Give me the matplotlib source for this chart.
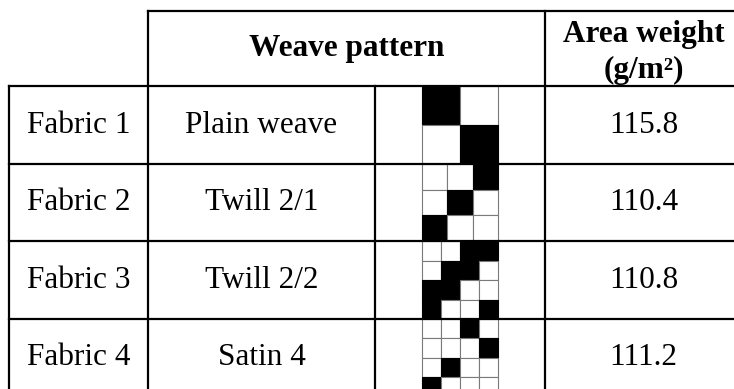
#!/usr/bin/env python3

"""
Fabric table: weave pattern drawings and area weight
"""

import matplotlib
matplotlib.use("Agg")
import matplotlib.pyplot as plt
from matplotlib.patches import Rectangle

fabrics = ["Fabric 1", "Fabric 2", "Fabric 3", "Fabric 4"]
weaves = ["Plain weave", "Twill 2/1", "Twill 2/2", "Satin 4"]
area_weight = [115.8, 110.4, 110.8, 111.2]

# 1 = black (warp up), 0 = white
patterns = [
    [[1, 0],
     [0, 1]],
    [[0, 0, 1],
     [0, 1, 0],
     [1, 0, 0]],
    [[0, 0, 1, 1],
     [0, 1, 1, 0],
     [1, 1, 0, 0],
     [1, 0, 0, 1]],
    [[0, 0, 1, 0],
     [0, 0, 0, 1],
     [0, 1, 0, 0],
     [1, 0, 0, 0]],
]

# layout in pixels
W, H = 734, 389
col_x = [9, 148, 375, 545, 742]
header_top = 11
row_y = [86, 164, 241, 319, 396]
pat_w = 76
lw = 1.6
font = "Liberation Serif"
fs = 22.5


def draw_table():
    fig = plt.figure(figsize=(W / 100, H / 100), dpi=100)
    ax = fig.add_axes([0, 0, 1, 1])
    ax.set_xlim(0, W)
    ax.set_ylim(H, 0)
    ax.axis("off")

    # header
    ax.plot([col_x[1], W + 5], [header_top, header_top], color="black", lw=lw)
    ax.text((col_x[1] + col_x[3]) / 2, (header_top + row_y[0]) / 2, "Weave pattern",
            ha="center", va="center", fontsize=fs, fontweight="bold", family=font)
    ax.text((col_x[3] + col_x[4]) / 2, (header_top + row_y[0]) / 2 + 4, "Area weight\n(g/m²)",
            ha="center", va="center", fontsize=fs, fontweight="bold", family=font,
            linespacing=1.3)

    # horizontal rules
    for y in row_y[:-1]:
        ax.plot([col_x[0], W + 5], [y, y], color="black", lw=lw)
    # vertical rules
    ax.plot([col_x[0], col_x[0]], [row_y[0], H + 5], color="black", lw=lw)
    ax.plot([col_x[1], col_x[1]], [header_top, H + 5], color="black", lw=lw)
    ax.plot([col_x[2], col_x[2]], [row_y[0], H + 5], color="black", lw=lw)
    ax.plot([col_x[3], col_x[3]], [header_top, H + 5], color="black", lw=lw)

    for i, (fab, weave, aw, pat) in enumerate(zip(fabrics, weaves, area_weight, patterns)):
        y0, y1 = row_y[i], row_y[i + 1]
        yc = (y0 + y1) / 2
        ax.text((col_x[0] + col_x[1]) / 2, yc, fab, ha="center", va="center",
                fontsize=fs, family=font)
        ax.text((col_x[1] + col_x[2]) / 2, yc, weave, ha="center", va="center",
                fontsize=fs, family=font)
        ax.text((col_x[3] + col_x[4]) / 2, yc, f"{aw:.1f}", ha="center", va="center",
                fontsize=fs, family=font)

        # weave drawing
        n = len(pat)
        cw = pat_w / n
        ch = (y1 - y0) / n
        px0 = (col_x[2] + col_x[3]) / 2 - pat_w / 2
        for r, line in enumerate(pat):
            for c, v in enumerate(line):
                ax.add_patch(Rectangle((px0 + c * cw, y0 + r * ch), cw, ch,
                                       facecolor="black" if v else "white",
                                       edgecolor="black" if v else "#7a7a7a",
                                       lw=0.8, zorder=1))

    fig.savefig("out.png", dpi=100)


if __name__ == "__main__":
    draw_table()
